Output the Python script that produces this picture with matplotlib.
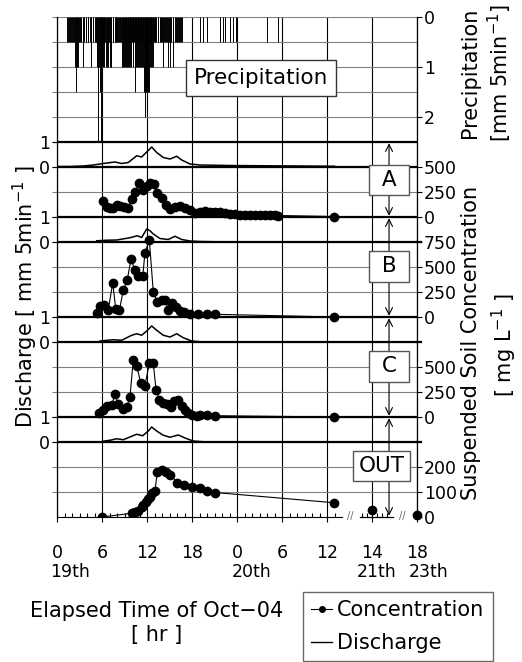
import matplotlib
matplotlib.use("Agg")
import matplotlib.pyplot as plt
from matplotlib.lines import Line2D
from matplotlib.ticker import FixedLocator
import numpy as np

plt.rcParams['font.family'] = ['DejaVu Sans']
plt.rcParams['mathtext.default'] = 'regular'

# time in hours from 0:00 of Oct 19; the axis is broken after the 20th 13:00
tick_pos = [0, 6, 12, 18, 24, 30, 36, 42, 48]
tick_labels = ['0', '6', '12', '18', '0', '6', '12', '14', '18']
day_labels = ['19th', '20th', '21th', '23th']
day_pos = [1.7, 26.0, 42.6, 49.6]

# precipitation, number of 0.5 mm tips per 5 min, one string per hour from 1:00 of the 19th
rain_start = 1.0
rain_hours = [
    "000010110101", "101102132210", "110101201011", "011010210110",
    "101125121325", "212121202121", "212201101011", "101011012212",
    "212121221212", "121123212122", "212121233433", "332321212121",
    "110101101011", "102101011201", "120101201010", "101101011000",
    "000000000000", "000000000000", "010000100000", "100000000000",
    "000000000100", "001001000000", "010000100001", "000000000000",
    "000000000000", "000000000000", "000000000000", "100000000000",
    "000000100000",
]

# discharge [mm 5min-1]
dis_A_t = [0, 1.73, 3.5, 4.84, 6.17, 7.73, 8.63, 9.5, 10.63, 11.29, 11.96, 12.63, 13.29,
           14.17, 15.07, 15.96, 16.63, 17.73, 19.07, 23.07, 27.07, 32.4, 37.0]
dis_A = [0.02, 0.02, 0.04, 0.08, 0.14, 0.2, 0.14, 0.18, 0.45, 0.4, 0.6, 0.8, 0.58,
         0.38, 0.32, 0.43, 0.28, 0.12, 0.08, 0.06, 0.05, 0.04, 0.03]
dis_B_t = [5.29, 6.63, 7.96, 9.73, 10.71, 11.29, 11.96, 12.4, 12.84, 13.73, 14.84, 15.73,
           16.63, 17.73, 19.07, 21.07, 37.0]
dis_B = [0.05, 0.07, 0.08, 0.17, 0.25, 0.18, 0.52, 0.45, 0.32, 0.14, 0.1, 0.23,
         0.1, 0.04, 0.02, 0.01, 0.0]
dis_C_t = [5.73, 7.51, 8.63, 9.96, 10.63, 11.29, 11.96, 12.63, 13.29, 14.17, 15.07, 15.96,
           16.84, 17.96, 19.07, 21.07, 37.0]
dis_C = [0.04, 0.09, 0.07, 0.27, 0.33, 0.27, 0.44, 0.64, 0.47, 0.27, 0.2, 0.33,
         0.17, 0.04, 0.01, 0.0, 0.0]
dis_O_t = [6.09, 7.07, 7.96, 8.84, 9.96, 10.63, 11.43, 12.17, 12.63, 13.29, 14.17, 15.07,
           16.17, 17.07, 18.17, 19.51, 27.51, 37.0]
dis_O = [0.03, 0.07, 0.13, 0.09, 0.23, 0.31, 0.25, 0.44, 0.6, 0.44, 0.27, 0.19,
         0.28, 0.16, 0.04, 0.01, 0.0, 0.0]

# suspended soil concentration [mg L-1]
conc_A_t = [6.17, 6.62, 7.07, 7.51, 7.96, 8.4, 8.93, 9.51, 9.96, 10.4, 10.97, 11.51, 11.96,
            12.4, 12.93, 13.37, 13.96, 14.53, 15.07, 15.73, 16.4, 17.07, 17.73, 18.4, 19.07,
            19.73, 20.4, 21.07, 21.73, 22.4, 23.07, 23.73, 24.4, 25.07, 25.73, 26.4, 27.07,
            27.73, 28.4, 29.07, 29.47, 36.93]
conc_A = [157, 105, 90, 95, 125, 115, 100, 88, 185, 250, 345, 275, 315,
          340, 335, 245, 190, 120, 80, 100, 110, 95, 75, 45, 55,
          60, 55, 50, 55, 45, 35, 30, 25, 25, 20, 20, 20,
          20, 22, 25, 15, 5]
conc_B_t = [5.29, 5.73, 6.27, 6.84, 7.43, 7.83, 8.31, 8.84, 9.37, 9.87, 10.4, 10.84, 11.43,
            11.73, 12.31, 12.84, 13.37, 13.96, 14.4, 14.84, 15.37, 15.87, 16.4, 16.93, 17.73,
            18.84, 19.96, 21.07, 36.97]
conc_B = [44, 110, 116, 74, 340, 84, 67, 267, 374, 577, 467, 407, 407,
          644, 767, 250, 150, 174, 174, 74, 144, 100, 60, 50, 27,
          27, 27, 27, 0]
conc_C_t = [5.64, 6.17, 6.71, 7.29, 7.73, 8.17, 8.76, 9.29, 9.73, 10.17, 10.63, 11.16, 11.73,
            12.31, 12.84, 13.2, 13.64, 14.17, 14.71, 15.16, 15.6, 16.17, 16.63, 17.07, 17.51,
            17.96, 18.63, 19.07, 19.96, 21.07, 36.97]
conc_C = [40, 73, 106, 116, 230, 130, 83, 100, 200, 573, 513, 340, 313,
          540, 540, 273, 173, 140, 130, 100, 156, 166, 106, 73, 40,
          23, 10, 17, 17, 13, 0]
conc_O_t = [6.04, 9.96, 10.17, 10.4, 10.84, 11.29, 11.51, 11.87, 12.17, 12.4, 12.63, 13.07,
            13.37, 13.96, 14.53, 15.07, 16.04, 16.97, 18.04, 19.07, 20.04, 21.07, 36.97]
conc_O = [0, 15, 18, 20, 24, 40, 47, 62, 73, 80, 95, 105,
          180, 187, 182, 170, 138, 128, 120, 116, 105, 98, 57]
conc_O_late_t = [62, 114]   # 21st 14:00, 23rd 18:00
conc_O_late = [30, 10]


def axis_pos(h):
    # broken time axis: 21st 14:00 -> 42, 23rd 18:00 -> 48
    return np.interp(h, [0, 38, 62, 114], [0, 38, 42, 48])


fig = plt.figure(figsize=(5.22, 6.62), dpi=100)
ax = fig.add_axes([57 / 522, 1 - 517 / 662, 360 / 522, 500 / 662])
ax.set_xlim(0, 48)
ax.set_ylim(20, 0)   # 20 grid rows
ax.set_yticks(range(20))
ax.tick_params(axis='y', left=True, labelleft=False, length=3.6, color='#808080', width=0.8)
ax.grid(axis='y', color='#808080', lw=0.8)
ax.grid(axis='x', color='black', lw=0.8)
ax.set_axisbelow(True)
ax.set_xticks(tick_pos, tick_labels)
ax.xaxis.set_minor_locator(FixedLocator(list(range(1, 38)) + [40.67, 41.33, 42.67, 43.33, 44.0]))
ax.tick_params(axis='x', which='major', labelsize=12.5, length=3.6, width=0.8, pad=16)
ax.tick_params(axis='x', which='minor', direction='in', length=2.7, width=0.8)
ax.spines['top'].set_visible(False)
ax.spines['bottom'].set_bounds(0, 38)
ax.spines['left'].set_linewidth(0.9)
ax.spines['right'].set_linewidth(0.9)
ax.plot([40.4, 44.8], [20, 20], color='black', lw=0.9, clip_on=False)
for xb in [39.1, 46.0]:
    ax.text(xb, 19.95, '//', fontsize=7, color='#666666', ha='center', va='center', clip_on=False)

for d, xp in zip(day_labels, day_pos):
    ax.text(xp, -0.11, d, transform=ax.get_xaxis_transform(), fontsize=12.5,
            ha='center', va='center')

# panel boundaries
for r in [5, 6, 8, 9, 12, 13, 16, 17]:
    ax.axhline(r, color='black', lw=1.6, zorder=2)
for r in [9, 13, 17]:
    ax.axhline(r, xmin=1, xmax=1.012, color='black', lw=1.6, clip_on=False)

# station arrows and labels
for top, bot in [(5, 8), (8, 12), (12, 16), (16, 20)]:
    ax.annotate('', xy=(44.27, top + 0.05), xytext=(44.27, bot - 0.05),
                arrowprops=dict(arrowstyle='<->,head_length=0.5,head_width=0.25',
                                lw=0.8, color='black', shrinkA=0, shrinkB=0), zorder=4)
box = dict(boxstyle='square,pad=0.25', fc='white', ec='#555555', lw=1)
for name, yy in [(' A ', 6.52), (' B ', 9.98), (' C ', 13.98)]:
    ax.text(44.27, yy, name, fontsize=15.5, ha='center', va='center', bbox=box, zorder=5)
ax.text(43.3, 17.96, 'OUT', fontsize=15.5, ha='center', va='center', bbox=box, zorder=5)
ax.text(27.2, 2.44, 'Precipitation', fontsize=15.5, ha='center', va='center',
        bbox=dict(boxstyle='square,pad=0.35', fc='white', ec='#333333', lw=1), zorder=5)


def twin(lo, hi, ticks, side='right'):
    t = ax.twinx()
    t.set_ylim(lo, hi)
    t.set_yticks(ticks)
    for s in t.spines.values():
        s.set_visible(False)
    if side == 'left':
        t.yaxis.tick_left()
    t.tick_params(axis='y', labelsize=12.5, length=3.6, width=0.8, pad=1.5)
    return t


# precipitation bars hanging from the top
ax_p = twin(10, 0, [0, 1, 2])
rain = np.array([int(c) for h in rain_hours for c in h]) * 0.5
rain_t = rain_start + np.arange(len(rain)) / 12
wet = rain > 0
ax_p.vlines(rain_t[wet], 0, rain[wet], color='black', lw=0.7)

mk = dict(color='black', lw=0.8, marker='o', ms=6)
dl = dict(color='black', lw=1.1)

# A
ax_dA = twin(-14, 6, [0, 1], 'left')
ax_dA.plot(dis_A_t, dis_A, **dl)
ax_cA = twin(-3000, 2000, [0, 250, 500])
ax_cA.plot(conc_A_t, conc_A, **mk)
# B
ax_dB = twin(-11, 9, [0, 1], 'left')
ax_dB.plot(dis_B_t, dis_B, **dl)
ax_cB = twin(-2000, 3000, [0, 250, 500, 750])
ax_cB.plot(conc_B_t, conc_B, **mk)
# C
ax_dC = twin(-7, 13, [0, 1], 'left')
ax_dC.plot(dis_C_t, dis_C, **dl)
ax_cC = twin(-1000, 4000, [0, 250, 500])
ax_cC.plot(conc_C_t, conc_C, **mk)
# OUT
ax_dO = twin(-3, 17, [0, 1], 'left')
ax_dO.plot(dis_O_t, dis_O, **dl)
ax_cO = twin(0, 2000, [0, 100, 200])
ax_cO.plot(conc_O_t, conc_O, **mk)
ax_cO.plot(axis_pos(np.array(conc_O_late_t, float)), conc_O_late, 'o', color='black',
           ms=6, clip_on=False)

# axis titles
fig.text(25 / 522, 1 - 297 / 662, 'Discharge [ mm 5min$^{-1}$ ]', rotation=90,
         fontsize=15, ha='center', va='center')
fig.text(470 / 522, 1 - 73 / 662, 'Precipitation', rotation=90, fontsize=15,
         ha='center', va='center')
fig.text(500 / 522, 1 - 73 / 662, '[mm 5min$^{-1}$]', rotation=90, fontsize=15,
         ha='center', va='center')
fig.text(471 / 522, 1 - 343 / 662, 'Suspended Soil Concentration', rotation=90,
         fontsize=15, ha='center', va='center')
fig.text(504 / 522, 1 - 345 / 662, '[ mg L$^{-1}$ ]', rotation=90, fontsize=15,
         ha='center', va='center')
fig.text(157 / 522, 1 - 623 / 662, 'Elapsed Time of Oct\u221204\n[ hr ]', fontsize=15,
         ha='center', va='center', linespacing=1.25)

handles = [Line2D([], [], color='black', lw=0.8, marker='o', ms=4),
           Line2D([], [], color='black', lw=1.0)]
leg = fig.legend(handles, ['Concentration', 'Discharge'], loc='upper left',
                 bbox_to_anchor=(303 / 522, 1 - 592 / 662), fontsize=15, frameon=True,
                 fancybox=False, edgecolor='#444444', borderpad=0.4, labelspacing=0.6,
                 handlelength=1.0, handletextpad=0.25, borderaxespad=0)
leg.get_frame().set_linewidth(1.0)

fig.savefig('out.png', dpi=100)
